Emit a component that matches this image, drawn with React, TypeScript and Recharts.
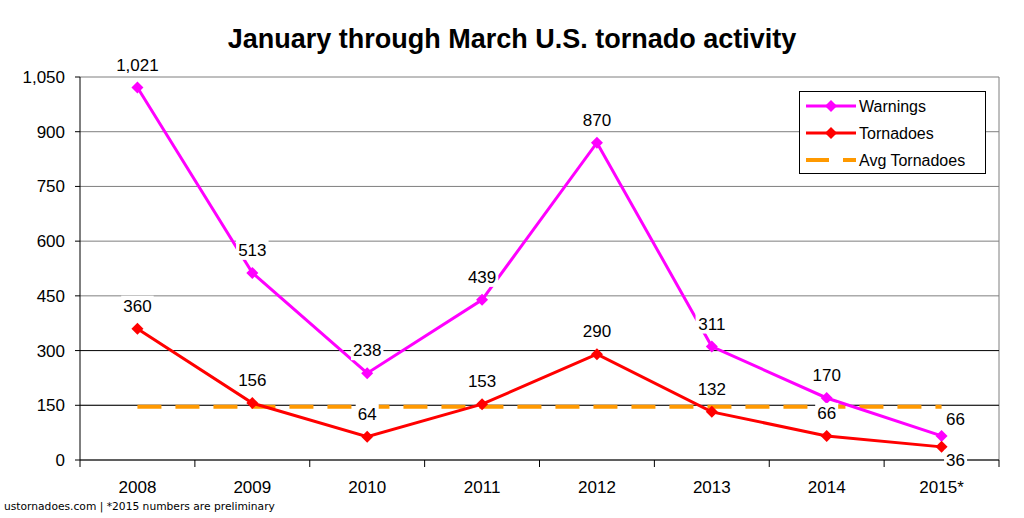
import React from 'react';
import {
  LineChart, Line, XAxis, YAxis, CartesianGrid, ReferenceLine, LabelList,
} from 'recharts';

const years = ['2008', '2009', '2010', '2011', '2012', '2013', '2014', '2015*'];
const warnings = [1021, 513, 238, 439, 870, 311, 170, 66];
const tornadoes = [360, 156, 64, 153, 290, 132, 66, 36];
const avgTornadoes = [146, 146, 146, 146, 146, 146, 146, 146];
const yTicks = [0, 150, 300, 450, 600, 750, 900, 1050];

const data = years.map((y, i) => ({
  year: y,
  warnings: warnings[i],
  tornadoes: tornadoes[i],
  avg: avgTornadoes[i],
}));

const FONT = '"Liberation Sans", Arial, sans-serif';
const W = 1024;
const H = 518;
const PLOT_LEFT = 80;
const PLOT_RIGHT = 999;
const PLOT_BOTTOM = 460;
const BAND = (PLOT_RIGHT - PLOT_LEFT) / years.length;

const fmt = (n: number) => n.toLocaleString('en-US');

function Diamond({ cx, cy, fill }: any) {
  if (cx == null || cy == null) return null;
  const r = 6;
  return (
    <polygon
      points={`${cx},${cy - r} ${cx + r},${cy} ${cx},${cy + r} ${cx - r},${cy}`}
      fill={fill}
    />
  );
}

// data label with a white box behind it, like the spreadsheet labels
function makeLabel(series: 'warnings' | 'tornadoes') {
  return (props: any) => {
    const x = props.x ?? props.viewBox?.x;
    const y = props.y ?? props.viewBox?.y;
    const { value, index } = props;
    if (x == null || y == null) return null;
    let lx = x;
    let ly = y - 23;
    if (index === years.length - 1) {
      lx = x + 14;
      ly = series === 'warnings' ? y - 17 : y + 13;
    }
    const text = fmt(value);
    const w = text.length * 9.5 + 4;
    return (
      <g>
        <rect x={lx - w / 2} y={ly - 10} width={w} height={20} fill="#fff" />
        <text x={lx} y={ly} dy="0.36em" textAnchor="middle" fontSize={17} fontFamily={FONT} fill="#000">
          {text}
        </text>
      </g>
    );
  };
}

function XTick({ x, payload, index }: any) {
  const last = index === years.length - 1;
  return (
    <g>
      <line x1={x - BAND / 2} y1={PLOT_BOTTOM} x2={x - BAND / 2} y2={PLOT_BOTTOM + 7} stroke="#000" />
      {last && <line x1={x + BAND / 2} y1={PLOT_BOTTOM} x2={x + BAND / 2} y2={PLOT_BOTTOM + 7} stroke="#000" />}
      <text x={x} y={493} textAnchor="middle" fontSize={17} fontFamily={FONT} fill="#000">
        {payload.value}
      </text>
    </g>
  );
}

const legendItems = [
  { name: 'Warnings', color: '#ff00ff', dash: false },
  { name: 'Tornadoes', color: '#ff0000', dash: false },
  { name: 'Avg Tornadoes', color: '#ff9900', dash: true },
];

function LegendBox() {
  return (
    <svg width={187} height={83} style={{ display: 'block' }}>
      <rect x={0.5} y={0.5} width={186} height={82} fill="#fff" stroke="#000" />
      {legendItems.map((it, i) => {
        const cy = 15 + i * 27;
        return (
          <g key={it.name}>
            {it.dash ? (
              <line x1={7} y1={cy} x2={57} y2={cy} stroke={it.color} strokeWidth={4} strokeDasharray="23 14" />
            ) : (
              <g>
                <line x1={7} y1={cy} x2={57} y2={cy} stroke={it.color} strokeWidth={3} />
                <Diamond cx={32} cy={cy} fill={it.color} />
              </g>
            )}
            <text x={60} y={cy} dy="0.36em" fontSize={16} fontFamily={FONT} fill="#000">
              {it.name}
            </text>
          </g>
        );
      })}
    </svg>
  );
}

export default function App() {
  return (
    <div style={{ position: 'absolute', left: 0, top: 0, width: W, height: H, background: '#fff' }}>
      <div
        style={{
          position: 'absolute', left: 0, top: 24, width: W, textAlign: 'center',
          fontFamily: FONT, fontWeight: 'bold', fontSize: 27, lineHeight: '30px', color: '#000',
        }}
      >
        January through March U.S. tornado activity
      </div>
      <LineChart
        width={W}
        height={H}
        data={data}
        margin={{ top: 77, right: W - PLOT_RIGHT, left: 20, bottom: 18 }}
      >
        <CartesianGrid vertical={false} stroke="#7f7f7f" />
        <CartesianGrid horizontal={false} verticalPoints={[PLOT_RIGHT]} stroke="#7f7f7f" />
        <ReferenceLine y={150} stroke="#111" />
        <ReferenceLine y={300} stroke="#111" />
        <XAxis
          dataKey="year"
          height={40}
          padding={{ left: BAND / 2, right: BAND / 2 }}
          axisLine={{ stroke: '#000' }}
          tickLine={false}
          tick={<XTick />}
          interval={0}
        />
        <YAxis
          width={60}
          domain={[0, 1050]}
          ticks={yTicks}
          tickFormatter={fmt}
          axisLine={{ stroke: '#000' }}
          tickLine={{ stroke: '#000' }}
          tickSize={5}
          tickMargin={10}
          tick={{ fontSize: 17, fill: '#000', fontFamily: FONT }}
        />
        <Line
          type="linear"
          dataKey="avg"
          name="Avg Tornadoes"
          stroke="#ff9900"
          strokeWidth={4}
          strokeDasharray="24 14"
          dot={false}
          activeDot={false}
          isAnimationActive={false}
        />
        <Line
          type="linear"
          dataKey="warnings"
          name="Warnings"
          stroke="#ff00ff"
          strokeWidth={3}
          dot={<Diamond fill="#ff00ff" />}
          activeDot={false}
          isAnimationActive={false}
        >
          <LabelList dataKey="warnings" content={makeLabel('warnings')} />
        </Line>
        <Line
          type="linear"
          dataKey="tornadoes"
          name="Tornadoes"
          stroke="#ff0000"
          strokeWidth={3}
          dot={<Diamond fill="#ff0000" />}
          activeDot={false}
          isAnimationActive={false}
        >
          <LabelList dataKey="tornadoes" content={makeLabel('tornadoes')} />
        </Line>
      </LineChart>
      <div style={{ position: 'absolute', left: 799, top: 91 }}>
        <LegendBox />
      </div>
      <div
        style={{
          position: 'absolute', left: 4, top: 500, fontFamily: '"DejaVu Sans", Verdana, sans-serif',
          fontSize: 10.7, color: '#000', whiteSpace: 'nowrap',
        }}
      >
        ustornadoes.com | *2015 numbers are preliminary
      </div>
    </div>
  );
}
